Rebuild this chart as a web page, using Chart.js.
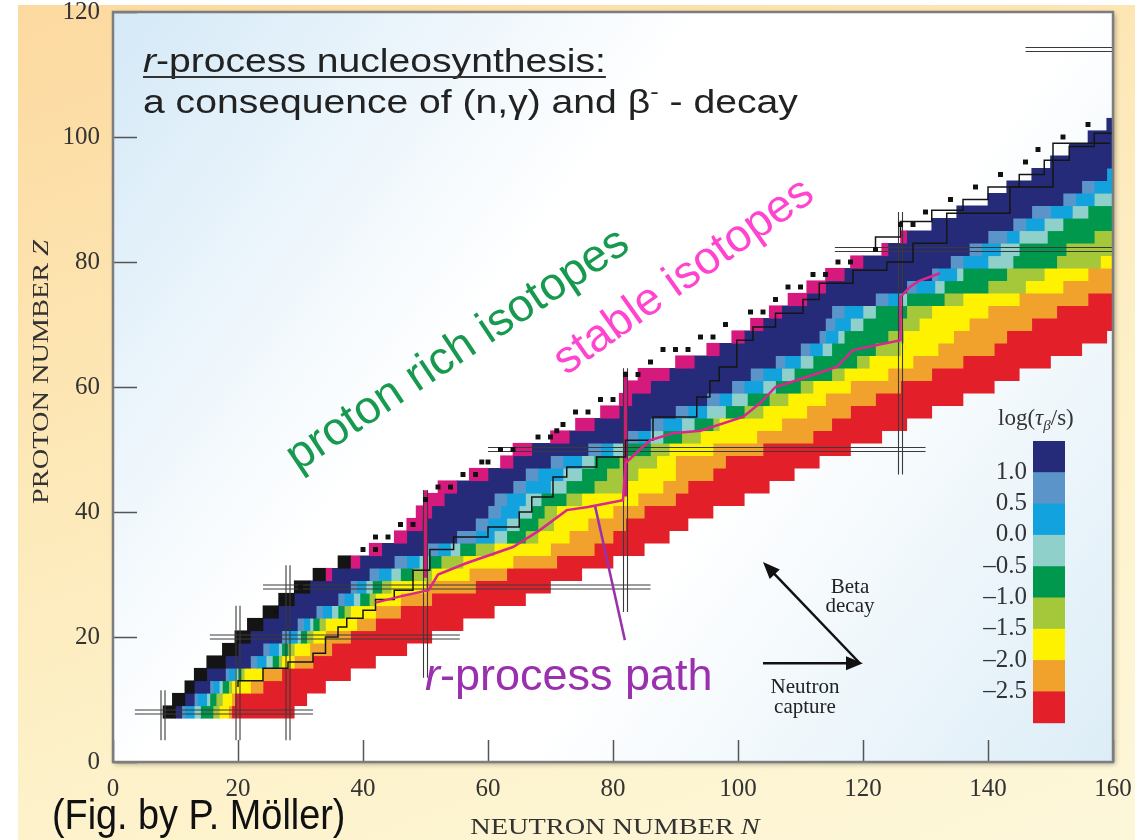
<!DOCTYPE html>
<html>
<head>
<meta charset="utf-8">
<script src="https://cdn.jsdelivr.net/npm/chart.js@4.4.1/dist/chart.umd.min.js"></script>
<style>
  html, body { margin: 0; padding: 0; background: #ffffff; }
  #bg {
    position: absolute; left: 18px; top: 5px; width: 1117px; height: 835px;
    background: linear-gradient(160deg, #fcd99f 0%, #fde5b2 30%, #fdf1c8 62%, #fdf7da 100%);
  }
  #c { position: absolute; left: 0; top: 0; }
</style>
</head>
<body>
<div id="bg"></div>
<canvas id="c" width="1135" height="840"></canvas>
<script>
// Rows of the nuclide chart (proton number Z, two rows per bar)
const zRows = [8,10,12,14,16,18,20,22,24,26,28,30,32,34,36,38,40,42,44,46,48,50,52,54,
               56,58,60,62,64,66,68,70,72,74,76,78,80,82,84,86,88,90,92,94,96,98,100,102];

// Neutron number N where each half-life band ends, per row
const leftEdge  = [8,9.5,11.5,13,15,17.5,19.5,21.5,24,26.5,29,32,36,41,45,47,48.5,50,52,57,62,64,70,74,
                   78,81,82,84,90,95,99,102,105,108,111,114,118,123,126,131,135,140,143,147,150,153,156,159];
const blackEnd  = [10,11.5,13,15,18,20,22,24,26.5,29,31.5,34,38,41,45,47,48.5,50,52,57,62,64,70,74,
                   78,81,82,84,90,95,99,102,105,108,111,114,118,123,126,131,135,140,143,147,150,153,156,159];
const pinkEnd   = [10,11.5,13,15,18,20,22,24,26.5,29,31.5,35,39.5,43,47,49.5,51,53,55,60,64,67,73,77,
                   81,83,86,89,93,97,101,104,107,111,114,117,120,124,127,131,135,140,143,147,150,153,156,159];
const navyEnd   = [11,13,15.5,18,22,24,27,29.5,32.5,36,38,41,45,50,55,58,60,61,64,66,70,76,82,86,
                   90,95,99,102,106,110,113,114,115,122,127,131,134,137,140,144,147,152,155,159,160,160,160,160];
const blueEnd   = [11.5,13.5,16,18.5,23,25,28,30.5,33.5,37,39,42.5,47,52,58,60,62,63,66,68,72,78,84,88,
                   92,97,101,104,107.5,111.5,114,115.5,117,124,128.5,132,136,139,143,146,150,154,157,159,160,160,160,160];
const lblueEnd  = [13,15,17,19.5,24.5,26.5,29.5,31.5,35,38.5,40.5,44.5,49,54,61,63,65,66,70,72,75,80,86,91,
                   95,99,104,107,110,113.5,116,118,120,126,131.5,135,140,142,145,149,153.5,157,160,160,160,160,160,160];
const tealEnd   = [14,15.5,17.5,20,25.5,27,30,32,36,39.5,41.5,46,50.5,55.5,63,65,67,68.5,72.5,75,77,82,88,93,
                   98,101.5,106,109,112,115,117,120,122,127,133,136,144,145,149.5,152,156,160,160,160,160,160,160,160];
const greenEnd  = [16,16.5,18.5,20.5,26.5,28,31,33,37,41,43,48,52.5,58,66,68,69,72.5,77,79,81,86,91,96,
                   101,105,110,115,119,122,124,126,127,133,140,143,151,152.5,157,160,160,160,160,160,160,160,160,160];
const ygEnd     = [17,17.5,19,21,27,29,32,34,38,42,44.5,51,56,61,68,70.5,71,75,82,84,87,89,94,97,
                   104,108,112,117,121,126,126.5,129,131,136,146,149,158,160,160,160,160,160,160,160,160,160,160,160];
const yellowEnd = [18.5,19,22,24,29,31.5,34,39,42,46,50,57,64,70,73,76,80,84,88,90,90,96,103,107,
                   111,114,118,124,128,132,134.5,137,140,145,152,156,160,160,160,160,160,160,160,160,160,160,160,160];
const orangeEnd = [19,19.5,24,27,32,35,38,42,46,51,58,63,71,77,80,82,85,90,92,96,98,104,112,115,
                   118,122,126,131,136,141,143,147,151,156,160,160,160,160,160,160,160,160,160,160,160,160,160,160];
const redEnd    = [29,31,34,38,42,47,51,56,61,66,70,75,80,85,89,92,96,101,105,109,113,118,123,127,
                   131,136,141,145,150,155,159,160,160,160,160,160,160,160,160,160,160,160,160,160,160,160,160,160];

const bandNames  = ['stable', 'proton rich', '1.0', '0.5', '0.0', '-0.5', '-1.0', '-1.5', '-2.0', '-2.5', '< -2.5'];
const bandColors = ['#141414', '#d6197c', '#252b78', '#5b94c8', '#12a2dd', '#8fd0cb',
                    '#00984c', '#a4c83a', '#fff200', '#f1a22c', '#e3202a'];

// Pink (proton rich) cells running up the N = 50 and N = 82 columns
const pinkColN = [50, 82];
const pinkColZfrom = [29.5, 42.5];
const pinkColZto = [43.5, 62.5];

// Stable nuclei marked above the computed region
const stableN = [26,27,30,40,42,42,44,46,48,50,52,54,56,58,59,60,62,64,68,70,71,72,74,76,78,80,82,84,86,
                 88,90,92,94,96,98,102,104,106,108,110,112,114,116,118,122,126,128,130,134,138,142,146,148,152,156];
const stableZ = [24,26,28,34,34,36,36,38,38,42,44,44,46,46,48,48,50,50,52,52,53,54,56,56,58,58,62,62,64,
                 66,66,66,68,68,70,72,72,74,76,76,78,78,80,80,82,86,86,88,90,92,94,96,98,100,102];

// Black line through the chart (limit of measured nuclei)
const knownN = [20,24,28,32,34,36,37.4,40,42,45,48,50.7,54.5,60,65,67,70.4,72.6,77.4,82,86.4,93.4,95.5,97,
                99.8,102.4,106,110.4,113,118.4,123.8,128,133.4,143.5,150.4,159.5];
const knownZ = [12,13,15,16,17.4,20,21.6,23,24.3,26,27.5,30.7,34,36,37.6,40,42.4,45.6,47.2,48.8,51.5,55.2,58.4,61,
                63.2,67.5,69.6,71.8,74,76.6,78.7,80,83,87.8,92,99];
const upperStableN = [122,126,131,136,140,145,149,153,157,160];
const upperStableZ = [82,84,86.5,88.3,90,92,94,96.3,98.5,100.6];

// r-process path
const rPathN = [42,46,50.5,52,56.5,64,68.3,72.6,76,81.6,82,84.3,86,89.6,94,100.8,103.5,106,111,115.8,118.4,126,126,127.5,129,132.3];
const rPathZ = [25.5,26.5,27.5,30,31.8,34.4,37.1,40.3,40.8,41.9,47.8,50,51.5,52.6,53,55.2,57.4,60,61.6,63.2,65.9,67.5,74.4,76,77,78.2];
const pointerN = [77.1, 81.9];
const pointerZ = [41.1, 19.5];

// Magic numbers (double lines)
const magicN = [8, 20, 28, 50, 82, 126];
const magicNZfrom = [3.5, 3.5, 3.5, 13.5, 24, 46];
const magicNZto = [11.5, 25, 31.5, 43.5, 63, 88];
const magicZ = [8, 20, 28, 50, 82, 114];
const magicZNfrom = [3.5, 15.5, 24, 60, 115.5, 146];
const magicZNto = [32, 55.5, 86, 130, 160, 160];

// Arrows (N, Z)
const betaArrow = [[119.5, 15.8], [104, 32]];
const captureArrow = [[104, 15.8], [120, 15.8]];

const legendLabels = ['1.0', '0.5', '0.0', '\u20130.5', '\u20131.0', '\u20131.5', '\u20132.0', '\u20132.5'];
const legendColors = bandColors.slice(2);

const xTicks = [0, 20, 40, 60, 80, 100, 120, 140, 160];
const yTicks = [0, 20, 40, 60, 80, 100, 120];

// ---- datasets ----
const bandEdges = [leftEdge, blackEnd, pinkEnd, navyEnd, blueEnd, lblueEnd, tealEnd,
                   greenEnd, ygEnd, yellowEnd, orangeEnd, redEnd];
const datasets = [];

const magicPts = [];
magicN.forEach((n, i) => {
  [-0.32, 0.32].forEach(d => {
    magicPts.push({ x: n + d, y: magicNZfrom[i] }, { x: n + d, y: magicNZto[i] }, { x: null, y: null });
  });
});
magicZ.forEach((z, i) => {
  [-0.32, 0.32].forEach(d => {
    magicPts.push({ x: magicZNfrom[i], y: z + d }, { x: magicZNto[i], y: z + d }, { x: null, y: null });
  });
});

const pinkColPts = [];
pinkColN.forEach((n, i) => {
  pinkColPts.push({ x: n, y: pinkColZfrom[i] }, { x: n, y: pinkColZto[i] }, { x: null, y: null });
});

const toPts = (xs, ys) => xs.map((x, i) => ({ x: x, y: ys[i] }));

datasets.push({
  type: 'scatter', label: 'stable', data: toPts(stableN, stableZ),
  pointStyle: 'rect', pointRadius: 3.5, backgroundColor: '#111', borderWidth: 0, order: 0
});
datasets.push({
  type: 'line', label: 'r-process path', data: toPts(rPathN, rPathZ),
  borderColor: '#d8288c', borderWidth: 2.5, pointRadius: 0, tension: 0, order: 0
});
datasets.push({
  type: 'line', label: 'pointer', data: toPts(pointerN, pointerZ),
  borderColor: '#9a30ad', borderWidth: 2.5, pointRadius: 0, order: 0
});
datasets.push({
  type: 'line', label: 'known', data: toPts(knownN, knownZ),
  borderColor: '#151515', borderWidth: 1.5, pointRadius: 0, stepped: 'after', order: 1
});
datasets.push({
  type: 'line', label: 'stable line', data: toPts(upperStableN, upperStableZ),
  borderColor: '#151515', borderWidth: 1.5, pointRadius: 0, stepped: 'after', order: 1
});
datasets.push({
  type: 'line', label: 'magic', data: magicPts,
  borderColor: '#3a3a3a', borderWidth: 1.1, pointRadius: 0, spanGaps: false, order: 1
});
datasets.push({
  type: 'line', label: 'pink columns', data: pinkColPts,
  borderColor: '#d6197c', borderWidth: 5, borderCapStyle: 'butt', pointRadius: 0, spanGaps: false, order: 1.5
});

bandColors.forEach((color, k) => {
  const data = [];
  zRows.forEach((z, i) => {
    const a = bandEdges[k][i], b = bandEdges[k + 1][i];
    if (b > a) data.push({ y: z, x: [a, b] });
  });
  datasets.push({
    type: 'bar', label: bandNames[k], indexAxis: 'y', data: data,
    backgroundColor: color, borderWidth: 0, grouped: false,
    barPercentage: 1, categoryPercentage: 1, order: 2
  });
});

// ---- drawing helpers ----
function textRuns(ctx, x, y, parts, sx) {
  sx = sx || 1;
  let cx = x;
  parts.forEach(p => {
    ctx.font = p.font;
    ctx.fillStyle = p.color;
    ctx.save();
    ctx.translate(cx, y + (p.dy || 0));
    ctx.scale(sx, 1);
    ctx.fillText(p.t, 0, 0);
    ctx.restore();
    cx += ctx.measureText(p.t).width * sx;
  });
  return cx;
}

function arrow(ctx, x0, y0, x1, y1) {
  const a = Math.atan2(y1 - y0, x1 - x0);
  const L = 17, W = 7;
  ctx.beginPath();
  ctx.moveTo(x0, y0);
  ctx.lineTo(x1 - Math.cos(a) * L * 0.7, y1 - Math.sin(a) * L * 0.7);
  ctx.stroke();
  ctx.beginPath();
  ctx.moveTo(x1, y1);
  ctx.lineTo(x1 - Math.cos(a) * L + Math.sin(a) * W, y1 - Math.sin(a) * L - Math.cos(a) * W);
  ctx.lineTo(x1 - Math.cos(a) * L - Math.sin(a) * W, y1 - Math.sin(a) * L + Math.cos(a) * W);
  ctx.closePath();
  ctx.fill();
}

const backdrop = {
  id: 'backdrop',
  beforeDatasetsDraw(chart) {
    const { ctx, chartArea: a } = chart;
    ctx.save();
    ctx.shadowColor = 'rgba(0,0,0,0.35)';
    ctx.shadowBlur = 5;
    ctx.shadowOffsetX = 2;
    ctx.shadowOffsetY = 2;
    const g = ctx.createLinearGradient(a.left, a.top, a.right, a.bottom);
    g.addColorStop(0, '#d4e9f7');
    g.addColorStop(0.38, '#ffffff');
    g.addColorStop(0.62, '#ffffff');
    g.addColorStop(1, '#dcedf7');
    ctx.fillStyle = g;
    ctx.fillRect(a.left, a.top, a.right - a.left, a.bottom - a.top);
    ctx.restore();
  }
};

const overlay = {
  id: 'overlay',
  afterDatasetsDraw(chart) {
    const { ctx, scales: { x, y } } = chart;
    ctx.save();
    ctx.textBaseline = 'alphabetic';
    ctx.textAlign = 'left';

    // title
    const end = textRuns(ctx, 143, 72, [
      { t: 'r', font: 'italic 34px "Liberation Sans"', color: '#222' },
      { t: '-process nucleosynthesis:', font: '34px "Liberation Sans"', color: '#222' }
    ], 1.15);
    ctx.strokeStyle = '#333';
    ctx.lineWidth = 2;
    ctx.beginPath(); ctx.moveTo(143, 77); ctx.lineTo(end, 77); ctx.stroke();
    textRuns(ctx, 143, 113, [
      { t: 'a consequence of (n,\u03b3) and \u03b2', font: '34px "Liberation Sans"', color: '#222' },
      { t: '-', font: '22px "Liberation Sans"', color: '#222', dy: -14 },
      { t: ' - decay', font: '34px "Liberation Sans"', color: '#222' }
    ], 1.15);

    // rotated labels
    const rot = (str, px, py, deg, font, color) => {
      ctx.save();
      ctx.translate(px, py);
      ctx.rotate(deg * Math.PI / 180);
      ctx.font = font; ctx.fillStyle = color;
      ctx.fillText(str, 0, 0);
      ctx.restore();
    };
    rot('proton rich isotopes', 298, 472, -33.7, '46px "Liberation Sans"', '#17994f');
    rot('stable isotopes', 566, 376, -35.3, '46px "Liberation Sans"', '#ff45cf');

    textRuns(ctx, 425, 690, [
      { t: 'r', font: 'italic 45px "Liberation Sans"', color: '#9a30ad' },
      { t: '-process path', font: '45px "Liberation Sans"', color: '#9a30ad' }
    ]);

    // arrows
    ctx.strokeStyle = '#111'; ctx.fillStyle = '#111'; ctx.lineWidth = 2.5;
    [betaArrow, captureArrow].forEach(arr => {
      arrow(ctx, x.getPixelForValue(arr[0][0]), y.getPixelForValue(arr[0][1]),
                 x.getPixelForValue(arr[1][0]), y.getPixelForValue(arr[1][1]));
    });
    ctx.font = '21px "Liberation Serif"';
    ctx.fillStyle = '#222';
    ctx.textAlign = 'center';
    ctx.fillText('Beta', 850, 593);
    ctx.fillText('decay', 850, 612);
    ctx.fillText('Neutron', 805, 693);
    ctx.fillText('capture', 805, 713);

    // colour bar legend
    ctx.textAlign = 'left';
    textRuns(ctx, 998, 425, [
      { t: 'log(', font: '23px "Liberation Serif"', color: '#333' },
      { t: '\u03c4', font: 'italic 23px "Liberation Serif"', color: '#333' },
      { t: '\u03b2', font: 'italic 15px "Liberation Serif"', color: '#333', dy: 5 },
      { t: '/s)', font: '23px "Liberation Serif"', color: '#333' }
    ]);
    const bx = 1033, bw = 32, by = 441, bh = 31.3;
    legendColors.forEach((c, i) => {
      ctx.fillStyle = c;
      ctx.fillRect(bx, by + i * bh, bw, bh + 0.5);
    });
    ctx.font = '25px "Liberation Serif"';
    ctx.fillStyle = '#333';
    ctx.textAlign = 'right';
    ctx.textBaseline = 'middle';
    legendLabels.forEach((s, i) => ctx.fillText(s, 1027, by + (i + 1) * bh));
    ctx.restore();
  },
  afterDraw(chart) {
    const { ctx, chartArea: a, scales: { x, y } } = chart;
    ctx.save();
    // inner tick marks
    ctx.strokeStyle = '#555';
    ctx.lineWidth = 1.5;
    ctx.beginPath();
    xTicks.forEach(v => {
      const px = Math.round(x.getPixelForValue(v)) + 0.5;
      ctx.moveTo(px, a.bottom); ctx.lineTo(px, a.bottom - 22);
    });
    yTicks.forEach(v => {
      const py = Math.round(y.getPixelForValue(v)) + 0.5;
      ctx.moveTo(a.left, py); ctx.lineTo(a.left + 24, py);
    });
    ctx.stroke();
    // frame
    ctx.strokeStyle = '#7d7d7d';
    ctx.lineWidth = 2.5;
    ctx.strokeRect(a.left, a.top, a.right - a.left, a.bottom - a.top);

    // axis titles
    ctx.fillStyle = '#333';
    ctx.textBaseline = 'alphabetic';
    const title = (main, it, cx, cy, rotate) => {
      ctx.save();
      ctx.translate(cx, cy);
      if (rotate) ctx.rotate(-Math.PI / 2);
      ctx.scale(1.18, 1);
      ctx.font = '24px "Liberation Serif"';
      const w1 = ctx.measureText(main).width;
      ctx.font = 'italic 24px "Liberation Serif"';
      const w2 = ctx.measureText(it).width;
      const x0 = -(w1 + w2) / 2;
      ctx.font = '24px "Liberation Serif"';
      ctx.fillText(main, x0, 0);
      ctx.font = 'italic 24px "Liberation Serif"';
      ctx.fillText(it, x0 + w1, 0);
      ctx.restore();
    };
    title('NEUTRON NUMBER ', 'N', 615, 834, false);
    title('PROTON NUMBER ', 'Z', 48, 372, true);

    textRuns(ctx, 52, 829, [
      { t: '(Fig. by P. M\u00f6ller)', font: '42px "Liberation Sans"', color: '#111' }
    ], 0.9);
    ctx.restore();
  }
};

const noEdgePadding = s => { s.paddingLeft = 0; s.paddingRight = 0; s.paddingTop = 0; s.paddingBottom = 0; };

new Chart(document.getElementById('c'), {
  type: 'bar',
  data: { datasets: datasets },
  options: {
    responsive: false,
    animation: false,
    layout: { padding: { left: 0, top: 12, right: 22, bottom: 0 } },
    plugins: { legend: { display: false }, tooltip: { enabled: false } },
    scales: {
      x: {
        type: 'linear', position: 'bottom', min: 0, max: 160, offset: false,
        grid: { display: false, drawTicks: false, offset: false },
        border: { display: false },
        ticks: { stepSize: 20, padding: 12, maxRotation: 0, color: '#333',
                 font: { family: 'Liberation Serif', size: 25 } },
        afterFit(s) { s.height = 78; noEdgePadding(s); }
      },
      y: {
        type: 'linear', position: 'left', min: 0, max: 120, offset: false,
        grid: { display: false, drawTicks: false, offset: false },
        border: { display: false },
        ticks: { stepSize: 20, padding: 13, color: '#333',
                 font: { family: 'Liberation Serif', size: 25 } },
        afterFit(s) { s.width = 113; noEdgePadding(s); }
      }
    }
  },
  plugins: [backdrop, overlay]
});
</script>
</body>
</html>
